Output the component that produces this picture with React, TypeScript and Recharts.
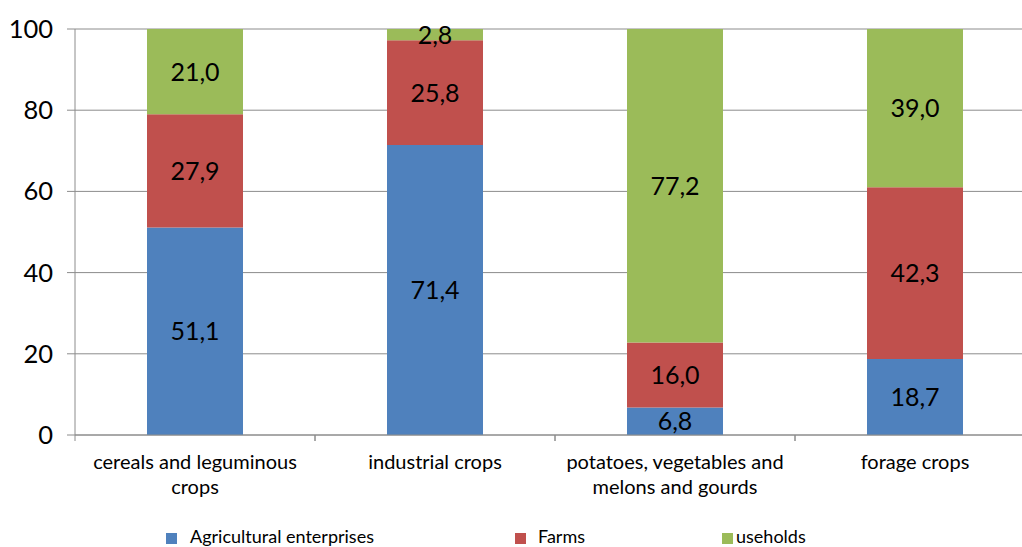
import { Bar, BarChart, CartesianGrid, LabelList, XAxis, YAxis } from 'recharts'

const CATEGORIES = [
  'cereals and leguminous crops',
  'industrial crops',
  'potatoes, vegetables and melons and gourds',
  'forage crops',
]
const TICK_LINES = [
  ['cereals and leguminous', 'crops'],
  ['industrial crops'],
  ['potatoes, vegetables and', 'melons and gourds'],
  ['forage crops'],
]
const ENTERPRISES = [51.1, 71.4, 6.8, 18.7]
const FARMS = [27.9, 25.8, 16.0, 42.3]
const HOUSEHOLDS = [21.0, 2.8, 77.2, 39.0]
const Y_TICKS = [0, 20, 40, 60, 80, 100]

const BLUE = '#4f81bd'
const RED = '#c0504d'
const GREEN = '#9bbb59'
const GRID = '#8c8c8c'
const FONT = 'Lato, "Open Sans", sans-serif'

const LEGEND = [
  { label: 'Agricultural enterprises', color: BLUE, left: 166, textLeft: 190 },
  { label: 'Farms', color: RED, left: 515, textLeft: 538 },
  { label: 'useholds', color: GREEN, left: 722, textLeft: 736 },
]

const data = CATEGORIES.map((name, i) => ({
  name,
  enterprises: ENTERPRISES[i],
  farms: FARMS[i],
  households: HOUSEHOLDS[i],
}))

const fmt = (v: unknown) => Number(v).toFixed(1).replace('.', ',')

interface TickProps {
  x?: number
  y?: number
  payload?: { value: string; offset: number; index: number }
}

function CategoryTick({ x = 0, y = 0, payload }: TickProps) {
  if (!payload) return null
  const off = payload.offset ?? 120
  const lines = TICK_LINES[payload.index] ?? [payload.value]
  return (
    <g>
      <line x1={x - off} y1={y} x2={x - off} y2={y + 6} stroke={GRID} />
      <line x1={x + off} y1={y} x2={x + off} y2={y + 6} stroke={GRID} />
      {lines.map((t, i) => (
        <text
          key={i}
          x={x}
          y={y + 34 + i * 25}
          textAnchor="middle"
          fill="#000"
          fontSize={20}
          fontFamily={FONT}
        >
          {t}
        </text>
      ))}
    </g>
  )
}

const labelStyle = { fill: '#000', fontSize: 25, fontFamily: FONT }

export default function App() {
  return (
    <div
      style={{
        position: 'absolute',
        left: 0,
        top: 0,
        width: 1022,
        height: 547,
        overflow: 'hidden',
        background: '#fff',
      }}
    >
      <BarChart
        width={1040}
        height={547}
        data={data}
        margin={{ top: 29, right: 5, left: 0, bottom: 0 }}
        barCategoryGap="30%"
      >
        <CartesianGrid vertical={false} stroke={GRID} />
        <XAxis
          dataKey="name"
          height={112}
          interval={0}
          tickSize={0}
          tickMargin={0}
          tickLine={false}
          axisLine={{ stroke: GRID }}
          tick={<CategoryTick />}
        />
        <YAxis
          width={75}
          domain={[0, 100]}
          ticks={Y_TICKS}
          tickSize={8}
          tickMargin={14}
          axisLine={{ stroke: GRID }}
          tickLine={{ stroke: GRID }}
          tick={{ fill: '#000', fontSize: 25.5, fontFamily: FONT }}
        />
        <Bar dataKey="enterprises" stackId="a" fill={BLUE} isAnimationActive={false}>
          <LabelList dataKey="enterprises" position="center" formatter={fmt} style={labelStyle} />
        </Bar>
        <Bar dataKey="farms" stackId="a" fill={RED} isAnimationActive={false}>
          <LabelList dataKey="farms" position="center" formatter={fmt} style={labelStyle} />
        </Bar>
        <Bar dataKey="households" stackId="a" fill={GREEN} isAnimationActive={false}>
          <LabelList dataKey="households" position="center" formatter={fmt} style={labelStyle} />
        </Bar>
      </BarChart>
      {LEGEND.map((l) => (
        <div key={l.label}>
          <div
            style={{
              position: 'absolute',
              left: l.left,
              top: 533,
              width: 11,
              height: 11,
              background: l.color,
            }}
          />
          <div
            style={{
              position: 'absolute',
              left: l.textLeft,
              top: 525,
              fontSize: 18,
              lineHeight: '22px',
              fontFamily: FONT,
              color: '#000',
              whiteSpace: 'nowrap',
            }}
          >
            {l.label}
          </div>
        </div>
      ))}
    </div>
  )
}
